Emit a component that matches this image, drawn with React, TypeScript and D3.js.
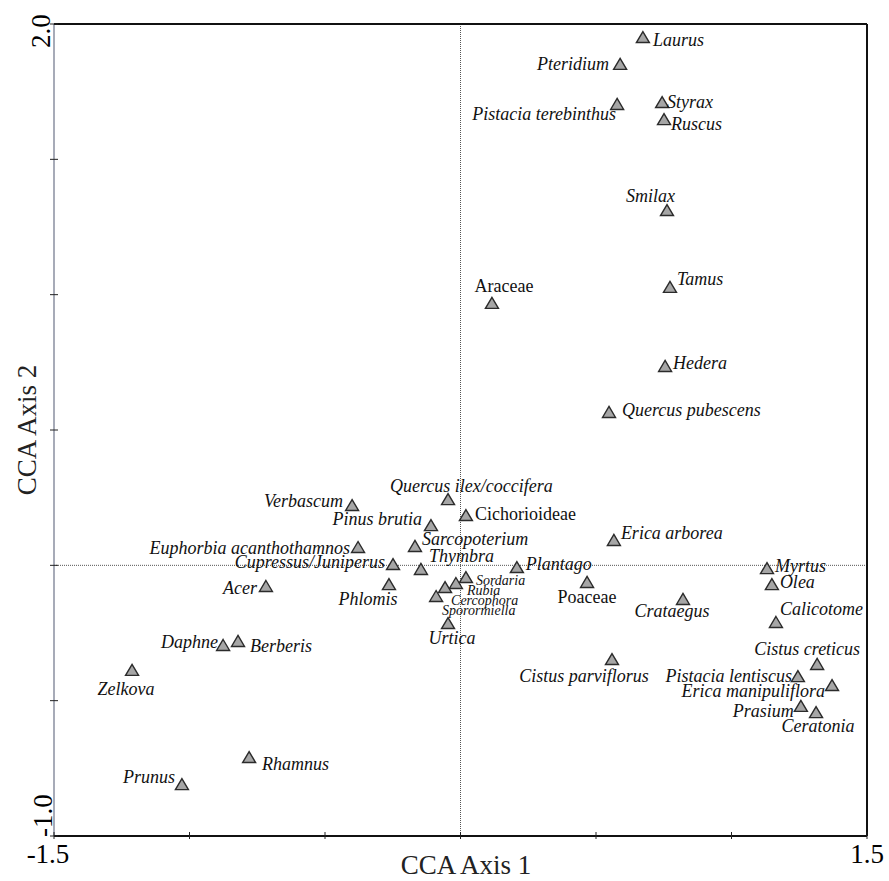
import React from "react";
import * as d3 from "d3";

// CCA species / pollen-type scores
const taxa = [
  "Laurus", "Pteridium", "Pistacia terebinthus", "Styrax", "Ruscus", "Smilax", "Tamus",
  "Araceae", "Hedera", "Quercus pubescens", "Quercus ilex/coccifera", "Cichorioideae",
  "Verbascum", "Pinus brutia", "Euphorbia acanthothamnos", "Sarcopoterium", "Erica arborea",
  "Cupressus/Juniperus", "Thymbra", "Plantago", "Myrtus", "Olea", "Acer", "Phlomis",
  "Poaceae", "Sordaria", "Rubia", "Cercophora", "Sporormiella", "Urtica", "Crataegus",
  "Calicotome", "Daphne", "Berberis", "Zelkova", "Cistus parviflorus", "Cistus creticus",
  "Pistacia lentiscus", "Erica manipuliflora", "Prasium", "Ceratonia", "Rhamnus", "Prunus",
];
const axis1 = [
  0.673, 0.589, 0.578, 0.744, 0.751, 0.762, 0.773,
  0.116, 0.755, 0.548, -0.046, 0.02,
  -0.4, -0.109, -0.378, -0.168, 0.566,
  -0.249, -0.146, 0.208, 1.131, 1.149, -0.718, -0.264,
  0.467, 0.02, -0.017, -0.057, -0.09, -0.046, 0.821,
  1.164, -0.876, -0.821, -1.212, 0.559, 1.316,
  1.245, 1.371, 1.256, 1.312, -0.78, -1.028,
];
const axis2 = [
  1.948, 1.849, 1.701, 1.708, 1.645, 1.309, 1.025,
  0.966, 0.733, 0.563, 0.241, 0.182,
  0.219, 0.145, 0.064, 0.068, 0.09,
  0.001, -0.017, -0.01, -0.014, -0.073, -0.08, -0.073,
  -0.065, -0.047, -0.069, -0.084, -0.117, -0.217, -0.128,
  -0.213, -0.298, -0.283, -0.39, -0.35, -0.368,
  -0.413, -0.446, -0.523, -0.546, -0.712, -0.812,
];
const families = ["Araceae", "Cichorioideae", "Poaceae"];
const fungi = ["Sordaria", "Rubia", "Cercophora", "Sporormiella"];
const xTicks = [-1.5, -1, -0.5, 0, 0.5, 1, 1.5];
const yTicks = [-1, -0.5, 0, 0.5, 1, 1.5, 2];

// label placement: dx, dy (baseline), anchor
const place: Record<string, [number, number, string]> = {
  Laurus: [10, 8, "start"],
  Pteridium: [-11, 5, "end"],
  "Pistacia terebinthus": [-1, 15, "end"],
  Styrax: [5, 5, "start"],
  Ruscus: [7, 10, "start"],
  Smilax: [8, -9, "end"],
  Tamus: [7, -3, "start"],
  Araceae: [12, -12, "middle"],
  Hedera: [8, 2, "start"],
  "Quercus pubescens": [13, 3, "start"],
  "Quercus ilex/coccifera": [-58, -8, "start"],
  Cichorioideae: [9, 4, "start"],
  Verbascum: [-9, 1, "end"],
  "Pinus brutia": [-9, -1, "end"],
  "Euphorbia acanthothamnos": [-8, 6, "end"],
  Sarcopoterium: [7, -2, "start"],
  "Erica arborea": [7, -2, "start"],
  "Cupressus/Juniperus": [-8, 3, "end"],
  Thymbra: [8, -8, "start"],
  Plantago: [9, 2, "start"],
  Myrtus: [8, 3, "start"],
  Olea: [8, 3, "start"],
  Acer: [-9, 7, "end"],
  Phlomis: [-21, 20, "middle"],
  Poaceae: [0, 20, "middle"],
  Sordaria: [10, 7, "start"],
  Rubia: [11, 11, "start"],
  Cercophora: [6, 17, "start"],
  Sporormiella: [6, 18, "start"],
  Urtica: [4, 20, "middle"],
  Crataegus: [-11, 17, "middle"],
  Calicotome: [4, -8, "start"],
  "Cistus creticus": [43, -10, "end"],
  "Cistus parviflorus": [-28, 22, "middle"],
  "Pistacia lentiscus": [-6, 5, "end"],
  "Erica manipuliflora": [-7, 11, "end"],
  Prasium: [-7, 10, "end"],
  Ceratonia: [2, 19, "middle"],
  Daphne: [-5, 2, "end"],
  Berberis: [12, 10, "start"],
  Zelkova: [-6, 24, "middle"],
  Rhamnus: [13, 12, "start"],
  Prunus: [-7, -2, "end"],
};

const W = 889;
const H = 881;
const left = 54, right = 867, top = 24, bottom = 836;
const font = "'Liberation Serif', 'Times New Roman', serif";

export default function App() {
  const x = d3.scaleLinear().domain([-1.5, 1.5]).range([left, right]);
  const y = d3.scaleLinear().domain([-1, 2]).range([bottom, top]);
  const points = taxa.map((name, i) => ({ name, a1: axis1[i], a2: axis2[i] }));
  const tri = "M0,-6.5L6.5,4.5L-6.5,4.5Z";

  return (
    <svg width={W} height={H} style={{ position: "absolute", left: 0, top: 0 }} fontFamily={font}>
      <rect width={W} height={H} fill="#fff" />
      {/* zero lines */}
      <line x1={x(0)} x2={x(0)} y1={top} y2={bottom} stroke="#555" strokeWidth={1} strokeDasharray="1,1" />
      <line x1={left} x2={right} y1={y(0)} y2={y(0)} stroke="#555" strokeWidth={1} strokeDasharray="1,1" />
      {/* frame */}
      <line x1={left} x2={left} y1={top} y2={bottom} stroke="#8a8fa0" strokeWidth={1.5} />
      <line x1={left} x2={right} y1={top} y2={top} stroke="#111" strokeWidth={2} />
      <line x1={right} x2={right} y1={top} y2={bottom} stroke="#111" strokeWidth={2} />
      <line x1={left} x2={right} y1={bottom} y2={bottom} stroke="#111" strokeWidth={2} />
      {/* ticks */}
      {yTicks.map((t) => (
        <line key={"yt" + t} x1={left - 4} x2={left + 4} y1={y(t)} y2={y(t)} stroke="#222" strokeWidth={1} />
      ))}
      {xTicks.map((t) => (
        <line key={"xt" + t} x1={x(t)} x2={x(t)} y1={bottom - 4} y2={bottom + 3} stroke="#222" strokeWidth={1} />
      ))}
      {/* tick labels */}
      <text x={x(-1.5) - 6} y={863} fontSize={27} textAnchor="middle">-1.5</text>
      <text x={x(1.5)} y={863} fontSize={27} textAnchor="middle">1.5</text>
      <text transform={`translate(50,${y(2) + 7}) rotate(-90)`} fontSize={27} textAnchor="middle">2.0</text>
      <text transform={`translate(52,${y(-1) + 1}) rotate(-90)`} fontSize={27} textAnchor="start">-1.0</text>
      {/* axis titles */}
      <text x={466} y={874} fontSize={27} textAnchor="middle" fill="#222">CCA Axis 1</text>
      <text transform={`translate(36,${(top + bottom) / 2}) rotate(-90)`} fontSize={27} textAnchor="middle" fill="#222">
        CCA Axis 2
      </text>
      {/* points */}
      {points.map((p) => (
        <path key={"p" + p.name} d={tri} transform={`translate(${x(p.a1)},${y(p.a2)})`} fill="#a6a6a6" stroke="#2b2b2b" strokeWidth={1.4} strokeLinejoin="miter" />
      ))}
      {/* labels */}
      {points.map((p) => {
        const [dx, dy, anchor] = place[p.name];
        const fam = families.includes(p.name);
        const small = fungi.includes(p.name);
        return (
          <text
            key={"l" + p.name}
            x={x(p.a1) + dx}
            y={y(p.a2) + dy}
            fontSize={small ? 14 : 18}
            fontStyle={fam ? "normal" : "italic"}
            textAnchor={anchor}
            fill="#111"
          >
            {p.name}
          </text>
        );
      })}
    </svg>
  );
}
